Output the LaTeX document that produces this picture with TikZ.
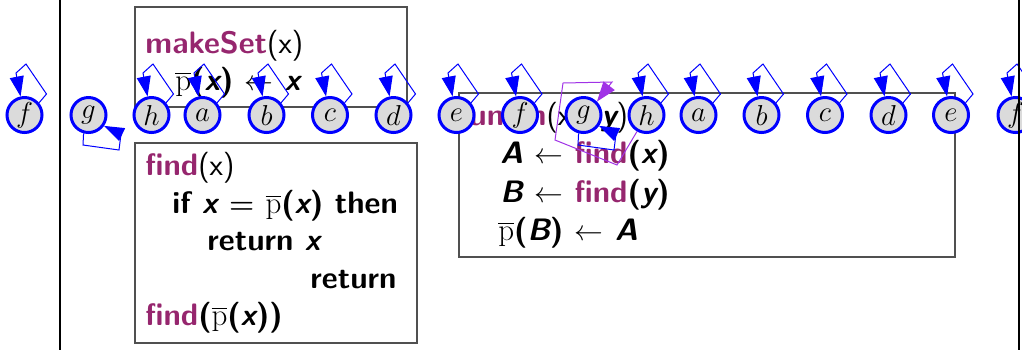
\documentclass[tikz,border=0pt]{standalone}
\usepackage{fontspec}
\usepackage{tikz}
\usetikzlibrary{arrows.meta}
\definecolor{keyword}{RGB}{150,38,110}
\definecolor{unionpurple}{RGB}{160,50,230}
\definecolor{boxgray}{RGB}{80,80,80}
\newfontface\varfont{lmsans10-boldoblique.otf}
\newcommand{\kw}[1]{\textcolor{keyword}{\bfseries #1}}
\newcommand{\va}[1]{{\varfont #1}}
\newcommand{\pbar}{$\overline{\mathrm{p}}$}

\begin{document}
\begin{tikzpicture}[x=0.5pt, y=-0.5pt,
  vert/.style={circle, draw=blue, line width=1.5pt, fill=black!14, minimum size=17.5pt, inner sep=0pt, font=\fontsize{14.4}{17}\selectfont},
  selfloop/.style={draw=blue, line width=0.5pt, -{Triangle[length=10pt, width=7pt]}},
  unionedge/.style={draw=unionpurple, line width=0.5pt, -{Triangle[length=10pt, width=7pt]}},
  codebox/.style={draw=boxgray, line width=0.75pt},
  code/.style={anchor=base west, inner sep=0pt, font=\fontsize{15.5}{18}\selectfont\sffamily\bfseries},
  divider/.style={draw=black, line width=0.75pt}
]
\useasboundingbox (0,0) rectangle (1022,350);

% code boxes
\draw[codebox] (135,7) rectangle (407,107);
\draw[codebox] (135,143) rectangle (417,343);
\draw[codebox] (459,93) rectangle (955,257);

\node[code] (makeset) at (145,53) {\kw{makeSet}{\mdseries(x)}};
\node[code] (makesetbody) at (175,90) {\pbar(\va{x}) $\leftarrow$ \va{x}};

\node[code] (find) at (145,175) {\kw{find}{\mdseries(x)}};
\node[code] (findif) at (172,213) {if \va{x} {\boldmath$=$} \pbar(\va{x}) then};
\node[code] (findret) at (207,250) {return \va{x}};
\node[code, anchor=base east] (findelse) at (397,288) {return};
\node[code] (findrec) at (145,325) {\kw{find}(\pbar(\va{x}))};

\node[code] (union) at (469,125) {\kw{union}{\mdseries(x,}\hspace{0.7em}\va{y}{\mdseries)}};
\node[code] (uniona) at (500,163) {\va{A} $\leftarrow$ \kw{find}(\va{x})};
\node[code] (unionb) at (500,202) {\va{B} $\leftarrow$ \kw{find}(\va{y})};
\node[code] (unionlink) at (498,240) {\pbar(\va{B}) $\leftarrow$ \va{A}};

% elements
\foreach \name/\pos/\lbl in {f1/24.5/f, g1/88.5/g, h1/151.5/h, a1/202.5/a, b1/266.5/b, c1/330/c, d1/393.5/d, e1/456.5/e, f2/520/f, g2/583.5/g, h2/646.5/h, a2/698.5/a, b2/761.5/b, c2/825/c, d2/888.5/d, e2/951/e, f3/1015.5/f}
  \node[vert] (\name) at (\pos,115) {$\lbl$};

% parent pointers of the roots
\foreach \name in {f1,h1,a1,b1,c1,d1,e1,f2,h2,a2,b2,c2,d2,e2,f3}
  \draw[selfloop] (\name.40) -- ([shift={(22,-21)}]\name.center) -- ([shift={(1.5,-51)}]\name.center) -- ([shift={(-8.5,-42)}]\name.center) -- (\name.102);
\foreach \name in {g1,g2}
  \draw[selfloop] (\name.-105) -- ([shift={(-5.5,30)}]\name.center) -- ([shift={(30.5,35)}]\name.center) -- ([shift={(32.5,19)}]\name.center) -- (\name.-35);
\draw[unionedge] (h2.-120) -- (617,165) -- (555,140) -- (563,83) -- (612,82) -- (g2.45);

\draw[divider] (60,0) -- (60,350);
\draw[divider] (1019,0) -- (1019,350);
\end{tikzpicture}
\end{document}
